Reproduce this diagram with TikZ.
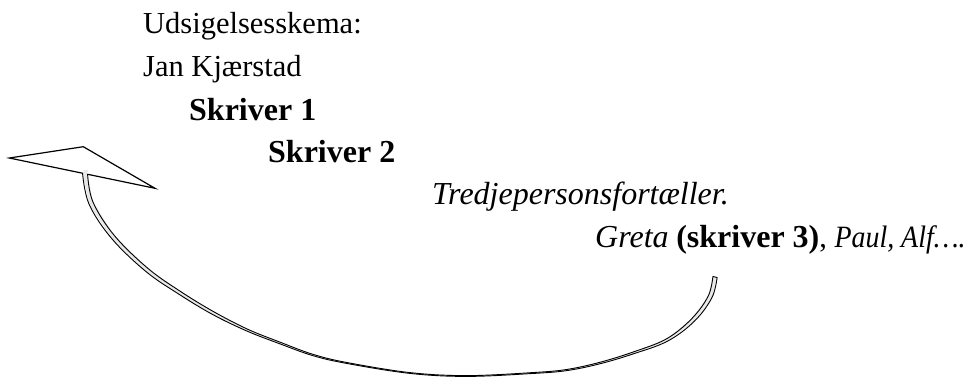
\documentclass[tikz,border=0pt]{standalone}
\usepackage{graphicx}
\usepackage{fontspec}
\setmainfont{Liberation Serif}
\begin{document}
\begin{tikzpicture}[x=1pt,y=-1pt,
  txt/.style={anchor=base west,inner sep=0pt,font=\fontsize{30.5}{36}\selectfont},
  outl/.style={line width=0.9pt,line join=round}]
\useasboundingbox (0,0) rectangle (974,376);
\newcommand\bigb[1]{{\fontsize{32}{36}\selectfont\textbf{#1}}}
\newcommand\bigi[1]{{\fontsize{32}{36}\selectfont\textit{#1}}}
% texts
\node[txt] (l1) at (143,33) {Udsigelsesskema:};
\node[txt] (l2) at (143,76) {Jan Kjærstad};
\node[txt] (l3) at (189,120) {\bigb{Skriver 1}};
\node[txt] (l4) at (268,162) {\bigb{Skriver 2}};
\node[txt] (l5) at (432,204) {\bigi{Tredjepersonsfortæller.}};
\node[txt] (l6) at (595,247) {\bigi{Greta} \bigb{(skriver 3)}, \scalebox{0.9}[1]{\fontsize{31}{36}\selectfont\itshape Paul, Alf….}};
% arrow head
\draw[line width=1.2pt,line join=miter,fill=white] (9.3,158) -- (83.3,146.7) -- (155,188.3) -- cycle;
% shaft fill
\fill[gray!18] (84,170) -- (82.7,173.5) -- (89,204) -- (111.5,238.3) -- (145.8,271.4) -- (179.1,294.3) -- (212.3,314.3) -- (246.6,330.9) -- (279.7,343.75) -- (312.8,355.6) -- (346.9,363.45) -- (409.96,373.4) -- (467,376.4) -- (533,373.45) -- (567.1,370.55) -- (600.2,363.7) -- (633.3,353.85) -- (667.6,341.1) -- (694.3,321.3) -- (711.8,297.9) -- (717.1,277.5) -- (712.9,276.5) -- (708.2,296.1) -- (691.7,318.7) -- (666.4,338.9) -- (632.7,352.15) -- (599.8,362.3) -- (566.9,369.45) -- (533,372.55) -- (467,375.6) -- (410.04,372.6) -- (347.1,362.55) -- (313.2,354.4) -- (280.3,342.25) -- (247.4,329.1) -- (213.7,311.7) -- (180.9,291.7) -- (148.2,268.6) -- (114.5,235.7) -- (93,202.1) -- (87.3,172.5) -- (88,170) -- cycle;
% shaft outlines
\draw[outl] plot[smooth,tension=0.6] coordinates {(82.5,172.8) (89,204) (111.5,238.3) (145.8,271.4) (179.1,294.3) (212.3,314.3) (246.6,330.9) (279.7,343.75) (312.8,355.6) (346.9,363.45) (409.96,373.4) (467,376.4) (533,373.45) (567.1,370.55) (600.2,363.7) (633.3,353.85) (667.6,341.1) (694.3,321.3) (711.8,297.9) (717.1,277.5)}
  -- (712.9,276.5);
\draw[outl] plot[smooth,tension=0.6] coordinates {(712.9,276.5) (708.2,296.1) (691.7,318.7) (666.4,338.9) (632.7,352.15) (599.8,362.3) (566.9,369.45) (533,372.55) (467,375.6) (410.04,372.6) (347.1,362.55) (313.2,354.4) (280.3,342.25) (247.4,329.1) (213.7,311.7) (180.9,291.7) (148.2,268.6) (114.5,235.7) (93,202.1) (87.6,174.2)};
\end{tikzpicture}
\end{document}
